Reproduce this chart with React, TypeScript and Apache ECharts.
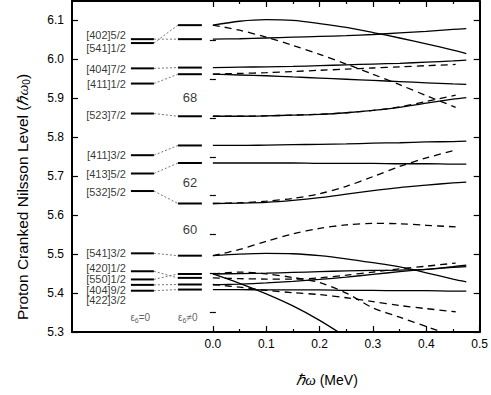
import React, { useEffect, useRef } from "react";
import * as echarts from "echarts";

// ---- data ----
const orbitLabels = ["[402]5/2", "[541]1/2", "[404]7/2", "[411]1/2", "[523]7/2", "[411]3/2", "[413]5/2", "[532]5/2", "[541]3/2", "[420]1/2", "[550]1/2", "[404]9/2", "[422]3/2"];
const levelsE6Zero = [6.052, 6.042, 5.977, 5.938, 5.861, 5.754, 5.707, 5.662, 5.502, 5.456, 5.435, 5.421, 5.406];
const levelsE6NonZero = [6.052, 6.088, 5.979, 5.962, 5.854, 5.779, 5.734, 5.630, 5.496, 5.439, 5.449, 5.422, 5.409];
const labelAnchors = [6.063, 6.030, 5.975, 5.938, 5.858, 5.754, 5.707, 5.660, 5.502, 5.465, 5.437, 5.409, 5.381];

const gapNumbers = ["68", "62", "60"];
const gapAnchors = [5.903, 5.685, 5.564];

const omegaSolid = [0, 0.05, 0.1, 0.15, 0.2, 0.25, 0.3, 0.35, 0.4, 0.45, 0.475];
const omegaDashed = [0, 0.05, 0.1, 0.15, 0.2, 0.25, 0.3, 0.35, 0.4, 0.455];

const solidA = [6.088, 6.098, 6.102, 6.100, 6.092, 6.082, 6.069, 6.055, 6.040, 6.024, 6.015];
const solidB = [6.052, 6.053, 6.055, 6.057, 6.059, 6.061, 6.064, 6.068, 6.072, 6.077, 6.079];
const solidD = [5.979, 5.980, 5.981, 5.982, 5.984, 5.986, 5.988, 5.990, 5.993, 5.996, 5.998];
const solidF = [5.962, 5.960, 5.958, 5.955, 5.952, 5.949, 5.946, 5.943, 5.940, 5.937, 5.936];
const solidG = [5.854, 5.854, 5.855, 5.857, 5.859, 5.863, 5.869, 5.877, 5.888, 5.898, 5.902];
const solidI = [5.779, 5.779, 5.780, 5.781, 5.782, 5.783, 5.785, 5.786, 5.788, 5.789, 5.790];
const solidJ = [5.734, 5.734, 5.734, 5.734, 5.733, 5.733, 5.733, 5.732, 5.732, 5.731, 5.731];
const solidK = [5.630, 5.631, 5.633, 5.638, 5.645, 5.654, 5.663, 5.671, 5.677, 5.683, 5.685];
const solidN = [5.496, 5.500, 5.502, 5.501, 5.496, 5.488, 5.478, 5.467, 5.452, 5.436, 5.429];
const solidU = [5.449, 5.450, 5.451, 5.453, 5.455, 5.457, 5.458, 5.459, 5.461, 5.468, 5.472];
const solidV = [5.421, 5.423, 5.426, 5.430, 5.435, 5.441, 5.448, 5.455, 5.461, 5.466, 5.468];
const solidW = [5.409, 5.409, 5.408, 5.408, 5.408, 5.407, 5.407, 5.406, 5.406, 5.405, 5.405];
const solidX = [5.449, 5.425, 5.398, 5.367, 5.330, 5.287, null, null, null, null, null];

const dashedC = [6.088, 6.075, 6.057, 6.036, 6.013, 5.988, 5.962, 5.935, 5.907, 5.877];
const dashedE = [5.962, 5.964, 5.966, 5.969, 5.972, 5.975, 5.978, 5.981, 5.984, 5.987];
const dashedH = [5.854, 5.854, 5.855, 5.857, 5.859, 5.863, 5.869, 5.878, 5.892, 5.908];
const dashedL = [5.630, 5.632, 5.636, 5.643, 5.655, 5.674, 5.699, 5.725, 5.747, 5.767];
const dashedM = [5.496, 5.512, 5.533, 5.552, 5.566, 5.575, 5.579, 5.578, 5.574, 5.570];
const dashedR = [5.439, 5.437, 5.436, 5.436, 5.439, 5.446, 5.454, 5.462, 5.469, 5.477];
const dashedS = [5.449, 5.454, 5.449, 5.440, 5.427, 5.400, 5.362, 5.338, 5.314, 5.288];
const dashedT = [5.422, 5.415, 5.407, 5.401, 5.396, 5.388, 5.378, 5.368, 5.360, 5.352];

const xMajorTicks = [0, 0.1, 0.2, 0.3, 0.4, 0.5];
const xMinorTicks = [0.05, 0.15, 0.25, 0.35, 0.45];
const yMajorTicks = [5.3, 5.4, 5.5, 5.6, 5.7, 5.8, 5.9, 6.0, 6.1];
const yMinorTicks = [5.35, 5.45, 5.55, 5.65, 5.75, 5.85, 5.95, 6.05];

// ---- layout constants (not data) ----
const X_MIN = -0.264;
const X_MAX = 0.5;
const Y_MIN = 5.3;
const Y_MAX = 6.15;
const LEFT_LEVEL = [-0.1536, -0.1105];
const RIGHT_LEVEL = [-0.0655, -0.0206];

const solidCurves = [solidA, solidB, solidD, solidF, solidG, solidI, solidJ, solidK, solidN, solidU, solidV, solidW, solidX];
const dashedCurves = [dashedC, dashedE, dashedH, dashedL, dashedM, dashedR, dashedS, dashedT];

export default function App() {
  const ref = useRef<HTMLDivElement>(null);

  useEffect(() => {
    if (!ref.current) return;
    const chart = echarts.init(ref.current, null, { renderer: "svg" });
    const black = "#000";
    const font = "Liberation Sans, Arial, sans-serif";

    const series: any[] = [];

    solidCurves.forEach((ys) => {
      series.push({
        type: "line",
        data: omegaSolid.map((x, i) => [x, ys[i]]),
        showSymbol: false,
        symbol: "none",
        smooth: 0.3,
        lineStyle: { color: black, width: 1.3, type: "solid" },
        silent: true,
      });
    });
    dashedCurves.forEach((ys) => {
      series.push({
        type: "line",
        data: omegaDashed.map((x, i) => [x, ys[i]]),
        showSymbol: false,
        symbol: "none",
        smooth: 0.3,
        lineStyle: { color: black, width: 1.3, type: [7, 5] },
        silent: true,
      });
    });

    // level lines and connectors
    levelsE6Zero.forEach((y0, i) => {
      const y1 = levelsE6NonZero[i];
      series.push({
        type: "line",
        data: [[LEFT_LEVEL[0], y0], [LEFT_LEVEL[1], y0]],
        symbol: "none",
        lineStyle: { color: black, width: 2 },
        silent: true,
      });
      series.push({
        type: "line",
        data: [[RIGHT_LEVEL[0], y1], [RIGHT_LEVEL[1], y1]],
        symbol: "none",
        lineStyle: { color: black, width: 2 },
        silent: true,
      });
      series.push({
        type: "line",
        data: [[LEFT_LEVEL[1], y0], [RIGHT_LEVEL[0], y1]],
        symbol: "none",
        lineStyle: { color: "#666", width: 0.9, type: [2, 2] },
        silent: true,
      });
    });

    // orbital labels
    series.push({
      type: "scatter",
      symbolSize: 0,
      silent: true,
      data: orbitLabels.map((name, i) => ({ value: [LEFT_LEVEL[0], labelAnchors[i]], name })),
      label: {
        show: true,
        position: "left",
        distance: 5,
        formatter: (p: any) => p.name,
        color: black,
        fontFamily: font,
        fontSize: 11,
        lineHeight: 10,
      },
    });

    // gap numbers
    series.push({
      type: "scatter",
      symbolSize: 0,
      silent: true,
      data: gapNumbers.map((name, i) => ({ value: [(RIGHT_LEVEL[0] + RIGHT_LEVEL[1]) / 2, gapAnchors[i]], name })),
      label: {
        show: true,
        position: "inside",
        formatter: (p: any) => p.name,
        color: black,
        fontFamily: font,
        fontSize: 13,
      },
    });

    // epsilon labels
    const epsRich = {
      e: { fontFamily: font, fontSize: 10, color: "#333" },
      s: { fontFamily: font, fontSize: 7, color: "#333", padding: [7, 0, 0, 0] },
      t: { fontFamily: font, fontSize: 10, color: "#333" },
    };
    series.push({
      type: "scatter",
      symbolSize: 0,
      silent: true,
      data: [
        { value: [(LEFT_LEVEL[0] + LEFT_LEVEL[1]) / 2 - 0.004, 5.338], name: "{e|ε}{s|6}{t|=0}" },
        { value: [(RIGHT_LEVEL[0] + RIGHT_LEVEL[1]) / 2 - 0.004, 5.338], name: "{e|ε}{s|6}{t|≠0}" },
      ],
      label: {
        show: true,
        position: "inside",
        formatter: (p: any) => p.name,
        rich: epsRich,
      },
    });

    const axisLine = { show: true, onZero: false, lineStyle: { color: black, width: 2 } };
    const tickStyle = { color: black, width: 1.2 };

    const xBase = { type: "value", min: X_MIN, max: X_MAX, splitLine: { show: false } };
    const yBase = { type: "value", min: Y_MIN, max: Y_MAX, splitLine: { show: false } };

    chart.setOption({
      animation: false,
      backgroundColor: "#fff",
      grid: { left: 72, right: 11, top: 1, bottom: 63, containLabel: false },
      xAxis: [
        {
          ...xBase,
          position: "bottom",
          axisLine,
          axisTick: { show: true, inside: true, length: 6, lineStyle: tickStyle, customValues: xMajorTicks },
          axisLabel: {
            show: true,
            customValues: xMajorTicks,
            formatter: (v: number) => v.toFixed(1),
            color: black,
            fontFamily: font,
            fontSize: 12,
            margin: 6,
          },
        },
        {
          ...xBase,
          position: "bottom",
          axisLine: { show: false },
          axisTick: { show: true, inside: true, length: 3, lineStyle: tickStyle, customValues: xMinorTicks },
          axisLabel: { show: false },
        },
        {
          ...xBase,
          position: "top",
          axisLine,
          axisTick: { show: true, inside: true, length: 6, lineStyle: tickStyle, customValues: xMajorTicks },
          axisLabel: { show: false },
        },
        {
          ...xBase,
          position: "top",
          axisLine: { show: false },
          axisTick: { show: true, inside: true, length: 3, lineStyle: tickStyle, customValues: xMinorTicks },
          axisLabel: { show: false },
        },
      ],
      yAxis: [
        {
          ...yBase,
          position: "left",
          axisLine,
          axisTick: { show: true, inside: true, length: 6, lineStyle: tickStyle, customValues: yMajorTicks },
          axisLabel: {
            show: true,
            customValues: yMajorTicks,
            formatter: (v: number) => v.toFixed(1),
            color: black,
            fontFamily: font,
            fontSize: 12,
            margin: 8,
          },
        },
        {
          ...yBase,
          position: "left",
          axisLine: { show: false },
          axisTick: { show: true, inside: true, length: 3, lineStyle: tickStyle, customValues: yMinorTicks },
          axisLabel: { show: false },
        },
        {
          ...yBase,
          position: "right",
          axisLine,
          axisTick: { show: true, inside: true, length: 6, lineStyle: tickStyle, customValues: yMajorTicks },
          axisLabel: { show: false },
        },
        {
          ...yBase,
          position: "right",
          axisLine: { show: false },
          axisTick: { show: true, inside: true, length: 3, lineStyle: tickStyle, customValues: yMinorTicks },
          axisLabel: { show: false },
        },
      ],
      graphic: [
        {
          type: "text",
          x: 22,
          y: 197,
          rotation: Math.PI / 2,
          silent: true,
          style: {
            text: "Proton Cranked Nilsson Level ({h|ℏω}{s|0})",
            fontFamily: font,
            fontSize: 15.5,
            fill: black,
            align: "center",
            verticalAlign: "middle",
            rich: {
              h: { fontFamily: "Liberation Serif, serif", fontStyle: "italic", fontSize: 15.5, fill: black },
              s: { fontFamily: font, fontSize: 10, fill: black, padding: [9, 0, 0, 0] },
            },
          },
        },
        {
          type: "text",
          x: 327,
          y: 380,
          silent: true,
          style: {
            text: "{h|ℏω} (MeV)",
            fontFamily: font,
            fontSize: 14,
            fill: black,
            align: "center",
            verticalAlign: "middle",
            rich: {
              h: { fontFamily: "Liberation Serif, serif", fontStyle: "italic", fontSize: 15, fill: black },
            },
          },
        },
      ],
      series,
    });

    return () => chart.dispose();
  }, []);

  return (
    <div
      ref={ref}
      style={{ position: "fixed", left: 0, top: 0, width: 491, height: 395, background: "#fff" }}
    />
  );
}
